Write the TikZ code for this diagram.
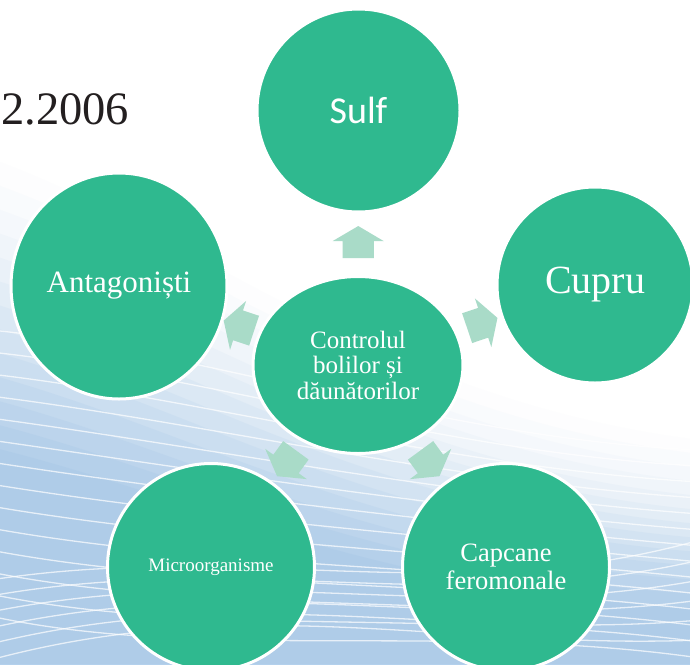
\documentclass[tikz,border=0pt]{standalone}
\usepackage{fontspec}
\setmainfont{Liberation Serif}
\newfontfamily\carlito{Carlito}
\usetikzlibrary{shapes.geometric,shapes.arrows,calc}
\definecolor{circ}{HTML}{2FB98F}
\definecolor{arrc}{HTML}{A9DBC8}
\definecolor{bgblue}{HTML}{8DB9E2}
\definecolor{datec}{HTML}{231F20}
\begin{document}
\begin{tikzpicture}[x=1pt,y=1pt,
  bubble/.style={ellipse, fill=circ, draw=white, line width=3pt, text=white, align=center, inner sep=0pt},
  blockarr/.style={single arrow, fill=arrc, draw=none, minimum height=32pt, text width=0pt,
    text height=15.5pt, text depth=15.5pt, single arrow head extend=10pt, single arrow tip angle=119,
    inner sep=0pt, sloped, allow upside down, anchor=center},
  wave/.style={white, line width=1.3pt, opacity=0.7}]
\useasboundingbox (0,0) rectangle (690,-664);
\fill[white] (0,0) rectangle (690,-664);
\begin{scope}
  \clip (0,0) rectangle (690,-664);
  \foreach \k [evaluate=\k as \op using 0.015+0.011*\k] in {0,...,12} {
    \fill[bgblue, opacity=\op] (-5,-160-24*\k) .. controls (200,-235-22*\k) and (380,-400-16*\k) .. (700,-440-14*\k) -- (700,-700) -- (-5,-700) -- cycle;
  }
  \foreach \i in {0,...,13} {
    \draw[wave] (-10,-330-22*\i) .. controls (200,-350-24*\i) and (450,-440-14*\i) .. (700,-450-16*\i);
  }
  \foreach \i in {0,...,5} {
    \draw[wave] (-10,-580-16*\i) .. controls (250,-540-10*\i) and (450,-610-8*\i) .. (700,-540-20*\i);
  }
\end{scope}
\node[anchor=base west, font=\fontsize{46.5}{50}\selectfont, text=datec, inner sep=0pt] (date) at (1,-124) {2.2006};
\node[bubble, minimum width=203pt, minimum height=203pt, font=\carlito\fontsize{38}{40}\selectfont] (sulf) at (358.5,-110.5) {Sulf};
\node[bubble, minimum width=216pt, minimum height=226pt, font=\fontsize{31}{33}\selectfont] (ant) at (119,-286) {Antagoniști};
\node[bubble, minimum width=196pt, minimum height=196pt, font=\fontsize{40}{42}\selectfont] (cup) at (595,-285) {Cupru};
\node[bubble, minimum width=207pt, minimum height=207pt, font=\fontsize{19}{21}\selectfont] (micro) at (211,-567) {Microorganisme};
\node[bubble, minimum width=207pt, minimum height=207pt, font=\fontsize{26.5}{27.5}\selectfont] (cap) at (506,-567) {Capcane\\feromonale};
\node[bubble, minimum width=210pt, minimum height=177pt, font=\fontsize{25}{25.5}\selectfont] (ctr) at (358,-365) {Controlul\\bolilor și\\dăunătorilor};
\path (ctr.center) -- (sulf.center) node[blockarr, pos=0.465] (a1) {};
\path (ctr.center) -- (cup.center) node[blockarr, pos=0.506] (a2) {};
\path (ctr.center) -- (ant.center) node[blockarr, pos=0.48] (a3) {};
\path (ctr.center) -- (micro.center) node[blockarr, pos=0.468] (a4) {};
\path (ctr.center) -- (cap.center) node[blockarr, pos=0.468] (a5) {};
\end{tikzpicture}
\end{document}
